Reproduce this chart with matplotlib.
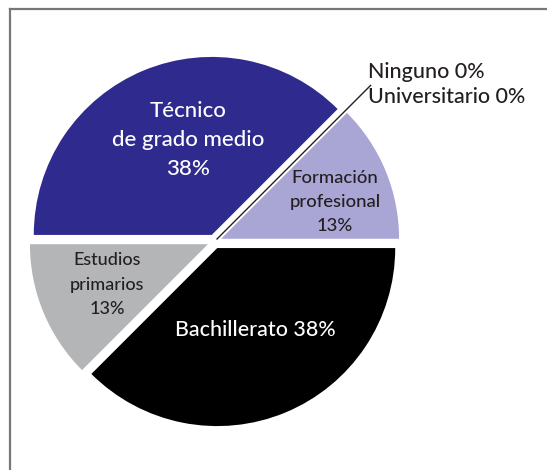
import numpy as np
import matplotlib
matplotlib.use("Agg")
import matplotlib.pyplot as plt
from matplotlib.lines import Line2D

plt.rcParams['font.family'] = ['Lato', 'DejaVu Sans']

# data (order: clockwise from the left horizontal)
categories = ["Técnico\nde grado medio", "Ninguno", "Universitario",
              "Formación\nprofesional", "Bachillerato", "Estudios\nprimarios"]
shares = [37.5, 0, 0, 12.5, 37.5, 12.5]
pct_labels = ["38%", "0%", "0%", "13%", "38%", "13%"]

colors = ["#2e2a8e", "#2e2a8e", "#2e2a8e", "#a9a6d6", "#000000", "#b4b5b7"]

# figure is 547x470 px, pie centre at (214.5, 241.5) px, radius 178 px
W, H = 547, 470
cx, cy, R = 214.5, 241.5, 178.0

fig = plt.figure(figsize=(W / 100, H / 100), dpi=100)
ax = fig.add_axes([0, 0, 1, 1])

wedges, _ = ax.pie(shares, colors=colors, startangle=180, counterclock=False,
                   explode=[0.04] * len(shares), radius=1.0,
                   wedgeprops=dict(linewidth=0), normalize=True)
ax.set_xlim(-cx / R, (W - cx) / R)
ax.set_ylim(-(H - cy) / R, cy / R)
ax.set_aspect("auto")
ax.axis("off")

dark = "#231f20"
wt = "medium"

def lab(i):
    return categories[i] + "\n" + pct_labels[i]

# labels inside the slices
ax.text(-0.149, 0.57, lab(0), color="white", fontsize=16, ha="center",
        va="center", linespacing=1.55, fontweight=wt)
ax.text(0.677, 0.222, lab(3), color=dark, fontsize=13.3, ha="center",
        va="center", linespacing=1.6, fontweight=wt)
ax.text(0.228, -0.497, categories[4] + " " + pct_labels[4], color="white",
        fontsize=15.5, ha="center", va="center", fontweight=wt)
ax.text(-0.604, -0.244, lab(5), color=dark, fontsize=13, ha="center",
        va="center", linespacing=1.65, fontweight=wt)

# leader line for the two empty slices
ang = np.deg2rad(wedges[1].theta1)
ax.plot([0.02 * np.cos(ang), 1.24 * np.cos(ang)],
        [0.02 * np.sin(ang), 1.24 * np.sin(ang)], color=dark, lw=1.0)
ax.text(0.862, 0.882,
        f"{categories[1]} {pct_labels[1]}\n{categories[2]} {pct_labels[2]}",
        color=dark, fontsize=15.5, ha="left", va="center", linespacing=1.3,
        fontweight=wt)

# frame
fig.add_artist(Line2D([10 / W, 1], [1 - 9 / H, 1 - 9 / H],
                      transform=fig.transFigure, color="#777777", lw=1.6))
fig.add_artist(Line2D([10 / W, 10 / W], [0, 1 - 9 / H],
                      transform=fig.transFigure, color="#777777", lw=1.6))

fig.savefig("out.png", dpi=100)
